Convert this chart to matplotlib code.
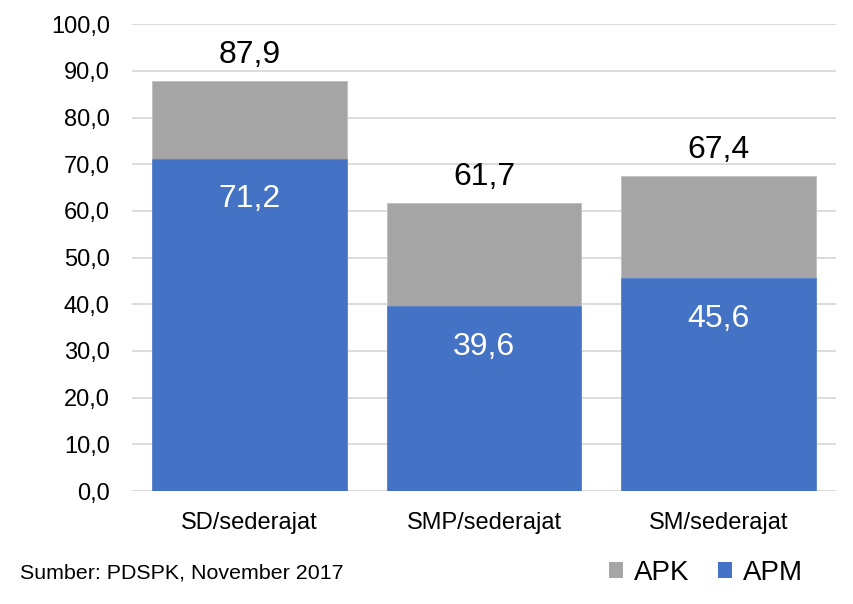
import matplotlib
matplotlib.use("Agg")
import matplotlib.pyplot as plt
from matplotlib.patches import Patch

plt.rcParams['font.family'] = ['Liberation Sans', 'DejaVu Sans']

# data
categories = ["SD/sederajat", "SMP/sederajat", "SM/sederajat"]
apk = [87.9, 61.7, 67.4]
apm = [71.2, 39.6, 45.6]
source = "Sumber: PDSPK, November 2017"

gray = "#A5A5A5"
blue = "#4472C4"


def fmt(v):
    return f"{v:.1f}".replace(".", ",")


fig = plt.figure(figsize=(8.54, 6.04), dpi=100)
ax = fig.add_axes([0.1546, 0.187, 0.8244, 0.773])

x = range(len(categories))
ax.bar(x, apk, width=0.83, color=gray, edgecolor="#BFBFBF", linewidth=0.6, zorder=2)
ax.bar(x, apm, width=0.83, color=blue, edgecolor="#5B84CC", linewidth=0.6, zorder=3)

# labels
for i, (t, m) in enumerate(zip(apk, apm)):
    ax.annotate(fmt(t), (i, t), xytext=(0, 13), textcoords="offset points",
                ha="center", va="baseline", fontsize=23, color="black")
    ax.annotate(fmt(m), (i, m), xytext=(0, -35), textcoords="offset points",
                ha="center", va="baseline", fontsize=23, color="white", zorder=4)

ax.set_xlim(-0.5, 2.5)
ax.set_ylim(0, 100)
ax.set_yticks(range(0, 101, 10))
ax.set_yticklabels([fmt(v) for v in range(0, 101, 10)], fontsize=17)
ax.set_xticks(list(x))
ax.set_xticklabels(categories, fontsize=17)
ax.tick_params(axis="y", length=0, pad=16)
ax.tick_params(axis="x", length=0, pad=15)
ax.yaxis.grid(True, color="#D9D9D9", linewidth=1.3, zorder=0)
ax.set_axisbelow(True)
for s in ax.spines.values():
    s.set_visible(False)

fig.text(20 / 854, 1 - 573 / 604, source, fontsize=15.4, va="center", ha="left")

handles = [Patch(facecolor=gray), Patch(facecolor=blue)]
fig.legend(handles, ["APK", "APM"], loc="center", bbox_to_anchor=(706 / 854, 1 - 573 / 604),
           ncol=2, frameon=False, fontsize=20, handlelength=0.5, handleheight=0.5,
           handletextpad=0.4, columnspacing=1.0)

fig.savefig("out.png", dpi=100)
